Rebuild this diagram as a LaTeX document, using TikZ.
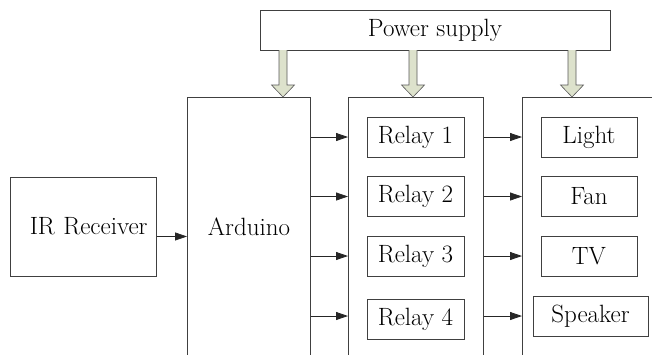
\documentclass[tikz,border=0pt]{standalone}
\usetikzlibrary{arrows.meta,calc}
\definecolor{pwr}{RGB}{221,226,204}
\tikzset{
  txt/.style={font=\fontsize{25}{30}\selectfont},
  box/.style={txt, draw=black!75, line width=0.8pt, inner sep=0pt},
  bigbox/.style={draw=black!75, line width=0.8pt, anchor=north west, inner sep=0pt, minimum height=300pt},
  arr/.style={-{Triangle[length=12pt,width=8pt]}, line width=0.8pt, black!85},
  parrow/.style={fill=pwr, draw=black!65, line width=0.6pt}
}
\begin{document}
\begin{tikzpicture}[x=1pt,y=-1pt]
\useasboundingbox (0,0) rectangle (652,354);
\begin{scope}
\clip (0,0) rectangle (652,354);
% power supply
\node[box, minimum width=350pt, minimum height=40pt] (ps) at (435,30) {Power supply};
% IR receiver
\node[box, minimum width=146pt, minimum height=99pt, text width=128pt, align=right] (ir) at (83.5,226.5) {IR Receiver};
% big boxes
\node[bigbox, minimum width=123pt] (ard) at (187,97) {};
\node[txt] (ardl) at (249,227) {Arduino};
\node[bigbox, minimum width=135pt] (rel) at (348,97) {};
\node[bigbox, minimum width=200pt] (out) at (522,97) {};
% relays
\node[box, minimum width=97pt, minimum height=40pt] (r1) at (415.5,137) {Relay 1};
\node[box, minimum width=97pt, minimum height=40pt] (r2) at (415.5,196.5) {Relay 2};
\node[box, minimum width=97pt, minimum height=40pt] (r3) at (415.5,256) {Relay 3};
\node[box, minimum width=97pt, minimum height=40pt] (r4) at (415.5,319) {Relay 4};
% outputs
\node[box, minimum width=96pt, minimum height=40pt] (o1) at (589,137) {Light};
\node[box, minimum width=96pt, minimum height=40pt] (o2) at (589,196.5) {Fan};
\node[box, minimum width=96pt, minimum height=40pt] (o3) at (589,256) {TV};
\node[box, minimum width=115pt, minimum height=40pt] (o4) at (590.5,316) {Speaker};
% connectors
\coordinate (irout) at ($(ir.south east)!0.4!(ir.north east)$);
\draw[arr] (irout) -- (irout -| ard.west);
\foreach \i in {1,...,4}{
  \draw[arr] (ard.east |- o\i) -- (rel.west |- o\i);
  \draw[arr] (rel.east |- o\i) -- (out.west |- o\i);
}
% power arrows
\foreach \x in {283,413,572}{
  \draw[parrow] (\x-4,50) -- (\x-4,85) -- (\x-11.5,85) -- (\x,97) -- (\x+11.5,85) -- (\x+4,85) -- (\x+4,50);
}
\end{scope}
\end{tikzpicture}
\end{document}
